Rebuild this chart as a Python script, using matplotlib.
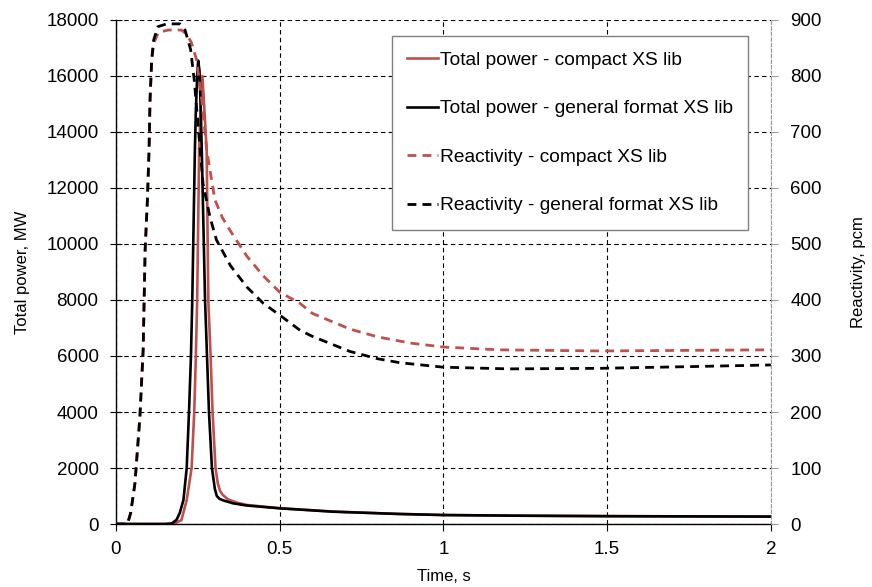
import matplotlib

matplotlib.use("Agg")
import matplotlib.pyplot as plt  # noqa: E402

plt.rcParams["font.family"] = ["Liberation Sans", "DejaVu Sans"]
plt.rcParams["font.size"] = 13.5

RED = "#C0504D"

# total power, MW
t_pow_gen = [0, 0.15, 0.17, 0.185, 0.195, 0.206, 0.216, 0.223, 0.229, 0.233, 0.241, 0.244,
             0.248, 0.251, 0.255, 0.259, 0.262, 0.272, 0.278, 0.284, 0.293, 0.302, 0.308,
             0.316, 0.327, 0.358, 0.40, 0.5, 0.663, 0.867, 1.0, 1.25, 1.5, 1.75, 2.0]
p_gen = [0, 0, 20, 150, 400, 857, 2000, 4000, 6000, 8000, 13357, 14786,
         16000, 16550, 16200, 14786, 13357, 8000, 6000, 4000, 2000, 1250, 1000,
         900, 845, 738, 660, 560, 440, 357, 320, 295, 280, 272, 265]

t_pow_cmp = [0, 0.16, 0.18, 0.2, 0.216, 0.231, 0.239, 0.244, 0.248, 0.254, 0.259, 0.264,
             0.269, 0.277, 0.282, 0.289, 0.295, 0.304, 0.311, 0.318, 0.326, 0.342, 0.37,
             0.40, 0.5, 0.663, 0.867, 1.0, 1.25, 1.5, 1.75, 2.0]
p_cmp = [0, 0, 20, 140, 857, 2000, 4000, 6000, 8000, 13357, 15000, 16000,
         15000, 13357, 8000, 6000, 4000, 2000, 1450, 1180, 1040, 882, 760,
         680, 565, 445, 360, 322, 297, 282, 273, 267]

# reactivity, pcm
t_rho_gen = [0, 0.035, 0.045, 0.058, 0.073, 0.083, 0.089, 0.096, 0.101, 0.104, 0.109,
             0.115, 0.128, 0.155, 0.195, 0.211, 0.228, 0.239, 0.266, 0.287, 0.307,
             0.35, 0.4, 0.45, 0.5, 0.562, 0.6, 0.715, 0.8, 0.867, 1.0, 1.2, 1.478,
             1.75, 2.0]
rho_gen = [0, 0, 20, 73, 191, 311, 489, 579, 668, 757, 829,
           864, 888, 893, 893, 882, 847, 793, 607, 548, 507,
           461, 423, 394, 373, 346, 335, 308, 295, 288, 280, 277, 278,
           281, 284]

t_rho_cmp = [0, 0.035, 0.045, 0.058, 0.073, 0.083, 0.089, 0.096, 0.101, 0.104, 0.109,
             0.115, 0.13, 0.16, 0.2, 0.215, 0.23, 0.246, 0.262, 0.277, 0.302, 0.325,
             0.353, 0.4, 0.45, 0.5, 0.562, 0.6, 0.715, 0.8, 0.9, 1.0, 1.17, 1.478, 2.0]
rho_cmp = [0, 0, 20, 73, 191, 311, 489, 579, 668, 757, 825,
           858, 878, 882, 882, 875, 860, 829, 757, 668, 579, 547,
           520, 478, 443, 414, 394, 376, 348, 334, 323, 316, 311, 309, 311]

fig = plt.figure(figsize=(8.72, 5.87), dpi=100)
ax = fig.add_axes([0.133, 0.1073, 0.751, 0.8587])
ax2 = ax.twinx()

h1, = ax.plot(t_pow_cmp, p_cmp, color=RED, lw=1.9, label="Total power - compact XS lib")
h2, = ax.plot(t_pow_gen, p_gen, color="black", lw=1.9, label="Total power - general format XS lib")
h3, = ax2.plot(t_rho_cmp, rho_cmp, color=RED, lw=2.0, dashes=(3.2, 2.2),
               label="Reactivity - compact XS lib")
h4, = ax2.plot(t_rho_gen, rho_gen, color="black", lw=2.0, dashes=(3.2, 2.2),
               label="Reactivity - general format XS lib")

ax.set_xlim(0, 2)
ax.set_ylim(0, 18000)
ax2.set_ylim(0, 900)
ax.set_xticks([0, 0.5, 1, 1.5, 2])
ax.set_xticklabels(["0", "0.5", "1", "1.5", "2"])
ax.set_yticks(range(0, 18001, 2000))
ax2.set_yticks(range(0, 901, 100))

ax.grid(True, color="black", lw=0.8, ls=(0, (4, 3)))
ax.spines["top"].set_visible(False)
ax2.spines["top"].set_visible(False)
ax.spines["right"].set_visible(False)
ax2.spines["left"].set_visible(False)
ax2.spines["bottom"].set_visible(False)
ax2.spines["right"].set_color("#999999")
ax2.spines["right"].set_linestyle((0, (3, 2)))
ax2.spines["right"].set_linewidth(0.8)
ax.spines["left"].set_linewidth(1.0)
ax.spines["bottom"].set_linewidth(1.0)

ax.tick_params(axis="y", direction="inout", length=9, width=0.8, pad=8)
ax.tick_params(axis="x", direction="out", length=5, width=0.8, pad=7)
ax2.tick_params(axis="y", direction="out", length=5, width=0.8, color="#999999", pad=9)

ax.set_xlabel("Time, s", fontsize=12, labelpad=8)
ax.set_ylabel("Total power, MW", fontsize=12, labelpad=12)
ax2.set_ylabel("Reactivity, pcm", fontsize=12, labelpad=21)

leg = ax2.legend(handles=[h1, h2, h3, h4], loc="upper left", bbox_to_anchor=(0.421, 0.968),
                 borderaxespad=0, fancybox=False, edgecolor="#808080", framealpha=1,
                 labelspacing=1.62, handlelength=1.6, handletextpad=0.1, borderpad=0.8,
                 fontsize=13.8)
leg.get_frame().set_linewidth(1.0)

fig.savefig("out.png", dpi=100)
